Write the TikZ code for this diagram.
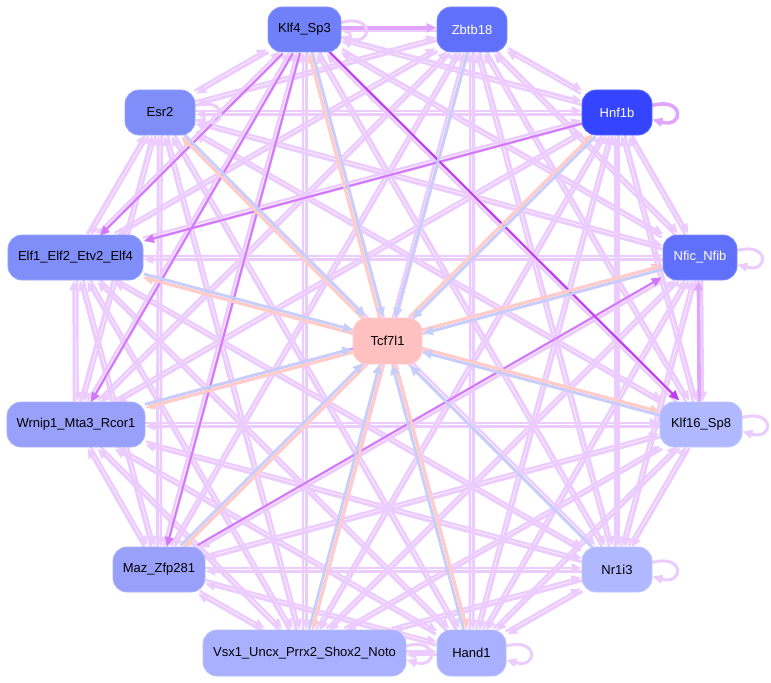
\documentclass[tikz,border=0pt]{standalone}
\usepackage{fontspec}
\setmainfont{Liberation Sans}
\usetikzlibrary{arrows.meta,calc}
\pgfdeclarelayer{bg}
\pgfsetlayers{bg,main}
\definecolor{lt}{RGB}{236,204,255}
\definecolor{md}{RGB}{224,165,252}
\definecolor{mp}{RGB}{212,120,250}
\definecolor{dp}{RGB}{190,60,240}
\definecolor{pk}{RGB}{255,204,200}
\definecolor{bl}{RGB}{198,206,250}
\definecolor{cKlf}{RGB}{112,128,248}
\definecolor{cZb}{RGB}{96,112,250}
\definecolor{cEs}{RGB}{128,142,250}
\definecolor{cHn}{RGB}{52,68,255}
\definecolor{cWr}{RGB}{152,160,250}
\definecolor{cKs}{RGB}{176,184,255}
\definecolor{cVs}{RGB}{168,176,255}
\definecolor{cTc}{RGB}{255,192,192}
\newcommand\gedge[4][1.7bp]{%
  \pgfmathanglebetweenpoints{\pgfpointanchor{#2}{center}}{\pgfpointanchor{#3}{center}}%
  \let\myang\pgfmathresult
  \draw[#4, transform canvas={shift={(\myang+90:#1)}}] (#2) -- (#3);}
\newcommand\gloop[2]{%
  \draw[#2] ([yshift=7bp]#1.east) .. controls +(32bp,9bp) and +(32bp,-9bp) .. ([yshift=-7bp]#1.east);}
\tikzset{
  gn/.style={rectangle, rounded corners=14bp, minimum height=45bp, inner sep=0pt,
    font=\fontsize{13bp}{15bp}\selectfont, fill=#1, draw=#1!80!white, line width=0.8bp},
  tip/.style={-{Triangle[length=10bp,width=8.5bp]}},
  lta/.style={tip, draw=lt, line width=3bp},
  ltb/.style={tip, draw=lt, line width=2.4bp},
  mde/.style={tip, draw=md, line width=3.6bp},
  mpe/.style={tip, draw=mp, line width=2bp},
  dpe/.style={tip, draw=dp, line width=2bp},
  pke/.style={tip, draw=pk, line width=3bp},
  ble/.style={tip, draw=bl, line width=2.6bp},
}
\begin{document}
\begin{tikzpicture}[x=1bp,y=-1bp]
\useasboundingbox (0,0) rectangle (771,683);
\begin{pgfonlayer}{bg}
\fill[white] (0,0) rectangle (771,683);
\end{pgfonlayer}
% nodes
\node[gn=cKlf, minimum width=73bp] (k4) at (304.5,29.5) {Klf4\_Sp3};
\node[gn=cZb, minimum width=70bp, text=white] (zb) at (472,29.5) {Zbtb18};
\node[gn=cEs, minimum width=70bp] (es) at (160,112.5) {Esr2};
\node[gn=cHn, minimum width=70bp, text=white] (hn) at (617,112.5) {Hnf1b};
\node[gn=cEs, minimum width=135bp] (el) at (75.5,257.5) {Elf1\_Elf2\_Etv2\_Elf4};
\node[gn=cZb, minimum width=74bp, text=white] (nf) at (700,257.5) {Nfic\_Nfib};
\node[gn=cTc, minimum width=69bp, minimum height=46bp] (tc) at (387.5,341) {Tcf7l1};
\node[gn=cWr, minimum width=138bp] (wr) at (76,424.5) {Wrnip1\_Mta3\_Rcor1};
\node[gn=cKs, minimum width=82bp] (kl) at (701,424.5) {Klf16\_Sp8};
\node[gn=cWr, minimum width=92bp] (mz) at (159,569.5) {Maz\_Zfp281};
\node[gn=cKs, minimum width=70bp] (nr) at (617,569.5) {Nr1i3};
\node[gn=cVs, minimum width=203bp, minimum height=46bp] (vs) at (304.5,653) {Vsx1\_Uncx\_Prrx2\_Shox2\_Noto};
\node[gn=cVs, minimum width=69bp, minimum height=46bp] (ha) at (471.5,653) {Hand1};
\begin{pgfonlayer}{bg}
% light edges between all outer nodes
\foreach \a [count=\i] in {k4,zb,hn,nf,kl,nr,ha,vs,mz,wr,el,es}{
  \foreach \b [count=\j] in {k4,zb,hn,nf,kl,nr,ha,vs,mz,wr,el,es}{
    \ifnum\i<\j
      \gedge{\a}{\b}{lta}
      \gedge{\b}{\a}{ltb}
    \fi
  }
}
% stronger edges
\gedge{k4}{zb}{mde}
\gedge{kl}{nf}{mde}
\gedge{k4}{el}{mpe}
\gedge{k4}{mz}{mpe}
\gedge{k4}{wr}{mpe}
\gedge{hn}{el}{mpe}
\gedge{wr}{nf}{mpe}
\gedge{mz}{nf}{mpe}
\gedge{k4}{kl}{dpe}
% Tcf7l1 edges
\foreach \a in {k4,es,hn,el,nf,wr,kl,mz,vs,ha}{\gedge{tc}{\a}{pke}}
\foreach \a in {k4,zb,es,hn,el,nf,wr,kl,mz,nr,vs,ha}{\gedge{\a}{tc}{ble}}
% self loops
\gloop{k4}{lta}
\gloop{es}{lta}
\gloop{hn}{mde}
\gloop{nf}{lta}
\gloop{kl}{lta}
\gloop{nr}{lta}
\gloop{vs}{lta}
\gloop{ha}{lta}
\end{pgfonlayer}
\end{tikzpicture}
\end{document}
